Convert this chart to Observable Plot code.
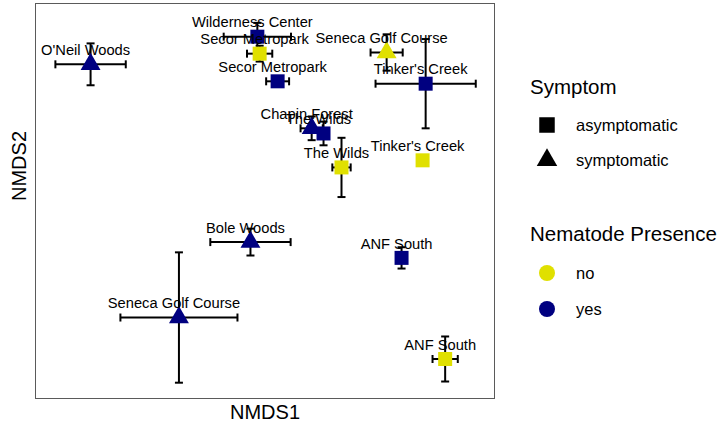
<!DOCTYPE html>
<html>
<head>
<meta charset="utf-8">
<script src="https://cdn.jsdelivr.net/npm/d3@7"></script>
<script src="https://cdn.jsdelivr.net/npm/@observablehq/plot@0.6"></script>
<style>
  html, body { margin: 0; padding: 0; background: #fff; }
  body { width: 720px; height: 428px; position: relative; overflow: hidden;
         font-family: "Liberation Sans", Arial, Helvetica, sans-serif; }
  #chart { position: absolute; left: 0; top: 0; }
  #legend { position: absolute; left: 0; top: 0; width: 720px; height: 428px; pointer-events: none; }
</style>
</head>
<body>
<div id="chart"></div>
<svg id="legend" width="720" height="428"></svg>
<script>
// ---- data ----
const sites    = ["O'Neil Woods", "Wilderness Center", "Secor Metropark", "Secor Metropark", "Chapin Forest", "The Wilds", "The Wilds", "Seneca Golf Course", "Tinker's Creek", "Tinker's Creek", "Bole Woods", "Seneca Golf Course", "ANF South", "ANF South"];
const symptom  = ["symptomatic", "asymptomatic", "asymptomatic", "asymptomatic", "symptomatic", "asymptomatic", "asymptomatic", "symptomatic", "asymptomatic", "asymptomatic", "symptomatic", "symptomatic", "asymptomatic", "asymptomatic"];
const nematode = ["yes", "yes", "no", "yes", "yes", "yes", "no", "no", "yes", "no", "yes", "yes", "yes", "no"];
const nmds1    = [-0.456, -0.020, -0.014, 0.033, 0.122, 0.153, 0.200, 0.318, 0.420, 0.412, -0.038, -0.225, 0.357, 0.471];
const nmds2    = [0.346, 0.416, 0.373, 0.303, 0.184, 0.171, 0.085, 0.376, 0.297, 0.103, -0.104, -0.295, -0.144, -0.400];
const se1      = [0.092, 0.088, 0.033, 0.030, 0.029, 0.010, 0.024, 0.042, 0.131, 0.000, 0.105, 0.153, 0.000, 0.033];
const se2      = [0.053, 0.035, 0.020, 0.008, 0.030, 0.030, 0.075, 0.046, 0.113, 0.000, 0.034, 0.165, 0.027, 0.057];

const symptomLevels  = ["asymptomatic", "symptomatic"];
const nematodeLevels = ["no", "yes"];
const nematodeColors = ["#e0e000", "#000080"];

const rows = sites.map((s, i) => ({
  site: s, symptom: symptom[i], nematode: nematode[i],
  x: nmds1[i], y: nmds2[i], sx: se1[i], sy: se2[i]
}));

const FONT = '"Liberation Sans", Arial, Helvetica, sans-serif';
const colorOf = v => nematodeColors[nematodeLevels.indexOf(v)];

// cap symbols (fixed pixel length lines)
const hCap = { draw(ctx, size) { const r = Math.sqrt(size) / 2; ctx.moveTo(-r, 0); ctx.lineTo(r, 0); } };
const vCap = { draw(ctx, size) { const r = Math.sqrt(size) / 2; ctx.moveTo(0, -r); ctx.lineTo(0, r); } };
const capR = 8 / Math.sqrt(Math.PI) ; // r such that sqrt(pi r^2) = 8 px

const squares   = rows.filter(d => d.symptom === "asymptomatic");
const triangles = rows.filter(d => d.symptom === "symptomatic");

const chart = Plot.plot({
  width: 720,
  height: 428,
  marginLeft: 35,
  marginRight: 226,
  marginTop: 3,
  marginBottom: 30,
  style: { fontFamily: FONT, background: "#fff" },
  x: { domain: [-0.6, 0.6], axis: null },
  y: { domain: [-0.5, 0.5], axis: null },
  marks: [
    Plot.frame({ stroke: "#5a5a5a", strokeWidth: 1 }),
    // horizontal error bars
    Plot.link(rows, { x1: d => d.x - d.sx, x2: d => d.x + d.sx, y1: "y", y2: "y", stroke: "black", strokeWidth: 2 }),
    Plot.dot(rows, { x: d => d.x - d.sx, y: "y", symbol: vCap, r: capR, stroke: "black", strokeWidth: 2 }),
    Plot.dot(rows, { x: d => d.x + d.sx, y: "y", symbol: vCap, r: capR, stroke: "black", strokeWidth: 2 }),
    // vertical error bars
    Plot.link(rows, { x1: "x", x2: "x", y1: d => d.y - d.sy, y2: d => d.y + d.sy, stroke: "black", strokeWidth: 2 }),
    Plot.dot(rows, { x: "x", y: d => d.y - d.sy, symbol: hCap, r: capR, stroke: "black", strokeWidth: 2 }),
    Plot.dot(rows, { x: "x", y: d => d.y + d.sy, symbol: hCap, r: capR, stroke: "black", strokeWidth: 2 }),
    // points
    Plot.dot(squares, { x: "x", y: "y", symbol: "square", r: 7.9, fill: d => colorOf(d.nematode), stroke: "none" }),
    Plot.dot(triangles, { x: "x", y: "y", symbol: "triangle", r: 7.4, fill: d => colorOf(d.nematode), stroke: "none" }),
    // labels
    Plot.text(rows, { x: "x", y: "y", text: "site", dx: -5, dy: -14, fontSize: 14.7, fill: "black", fontFamily: FONT }),
    // axis titles
    Plot.text(["NMDS1"], { frameAnchor: "bottom", dy: 20, fontSize: 20, fill: "black", fontFamily: FONT }),
    Plot.text(["NMDS2"], { frameAnchor: "left", dx: -16, rotate: -90, fontSize: 20, fill: "black", fontFamily: FONT })
  ]
});
document.getElementById("chart").appendChild(chart);

// ---- legend ----
const L = d3.select("#legend").style("font-family", FONT);
const legendX = 530, keyX = 547, labelX = 576;
function title(text, y) {
  L.append("text").attr("x", legendX).attr("y", y).attr("dy", "0.35em")
    .attr("font-size", 20.5).attr("fill", "black").text(text);
}
function label(text, y) {
  L.append("text").attr("x", labelX).attr("y", y).attr("dy", "0.35em")
    .attr("font-size", 16.5).attr("fill", "black").text(text);
}
title("Symptom", 87);
const symYs = [125, 160];
symptomLevels.forEach((s, i) => {
  const y = symYs[i];
  const sym = s === "asymptomatic" ? d3.symbolSquare : d3.symbolTriangle;
  const size = s === "asymptomatic" ? 15.5 * 15.5 : Math.PI * 7.6 * 7.6;
  L.append("path").attr("transform", `translate(${keyX},${y})`)
    .attr("d", d3.symbol(sym, size)()).attr("fill", "black");
  label(s, y);
});
title("Nematode Presence", 234);
const nemYs = [273, 309];
nematodeLevels.forEach((s, i) => {
  const y = nemYs[i];
  L.append("circle").attr("cx", keyX).attr("cy", y).attr("r", 8).attr("fill", nematodeColors[i]);
  label(s, y);
});
</script>
</body>
</html>
